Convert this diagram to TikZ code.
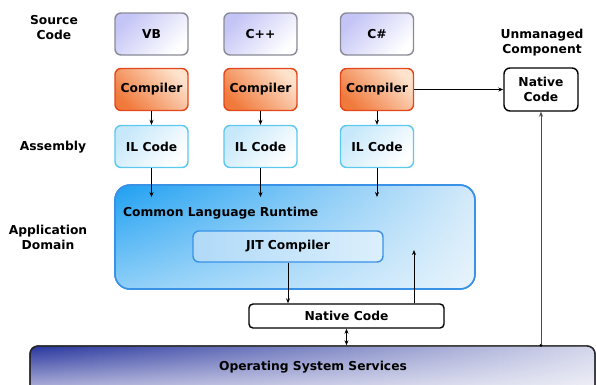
\documentclass[tikz,border=0pt]{standalone}
\usepackage{fontspec}
\setmainfont{DejaVu Sans}
\usetikzlibrary{arrows.meta,fadings}

\definecolor{srcfill}{HTML}{C4C4F6}
\definecolor{srcline}{HTML}{8A8A96}
\definecolor{cmpfill}{HTML}{F07A3C}
\definecolor{cmplight}{HTML}{FDE2CC}
\definecolor{cmpline}{HTML}{E4461A}
\definecolor{ilfill}{HTML}{C6E8FA}
\definecolor{illine}{HTML}{5CC8F0}
\definecolor{clrfill}{HTML}{1EA0F2}
\definecolor{clrlight}{HTML}{D4EAFA}
\definecolor{clrline}{HTML}{3A92E6}
\definecolor{jitfill}{HTML}{B0DAF8}
\definecolor{jitlight}{HTML}{DCEFFC}
\definecolor{osdark}{HTML}{28369E}
\definecolor{oslight}{HTML}{C4C4E2}

% white overlays that brighten one side of a filled shape
\tikzfading[name=fadedown, top color=transparent!100, bottom color=transparent!0]
\tikzfading[name=faderight, left color=transparent!100, right color=transparent!0]

\begin{document}
\begin{tikzpicture}[x=1pt,y=1pt,
  font=\bfseries\fontsize{12.3}{15}\selectfont,
  box/.style={rounded corners=6pt, line width=1.4pt, minimum width=73pt,
    minimum height=42pt, inner sep=0pt, align=center},
  srcbox/.style={box, draw=srcline, top color=srcfill, bottom color=white, shading angle=45},
  cmpbox/.style={box, draw=cmpline, top color=cmplight, bottom color=cmpfill, shading angle=-45},
  ilbox/.style={box, draw=illine, top color=ilfill, bottom color=white, shading angle=45},
  natbox/.style={box, draw=black, fill=white},
  lbl/.style={align=center, inner sep=0pt},
  arr/.style={-{Stealth[length=5pt,width=4pt]}, line width=0.7pt},
  darr/.style={{Stealth[length=5pt,width=4pt]}-{Stealth[length=5pt,width=4pt]}, line width=0.7pt},
]
\clip (0,0) rectangle (596,-384);

% row labels
\node[lbl] (lsrc) at (54,-28) {Source\\Code};
\node[lbl] (lasm) at (53,-147) {Assembly};
\node[lbl] (lapp) at (48,-237) {Application\\Domain};
\node[lbl] (lunm) at (542,-43) {Unmanaged\\Component};

% source languages
\node[srcbox] (vb) at (151.5,-34) {VB};
\node[srcbox] (cpp) at (260.5,-34) {C++};
\node[srcbox] (cs) at (377,-34) {C\#};

% compilers
\node[cmpbox] (c1) at (151.5,-89.5) {Compiler};
\node[cmpbox] (c2) at (260.5,-89.5) {Compiler};
\node[cmpbox] (c3) at (377,-89.5) {Compiler};

% intermediate language
\node[ilbox] (il1) at (151.5,-146.5) {IL Code};
\node[ilbox] (il2) at (260.5,-146.5) {IL Code};
\node[ilbox] (il3) at (377,-146.5) {IL Code};

% unmanaged native code
\node[natbox, minimum width=74pt, minimum height=43pt] (un) at (541,-89.5) {Native\\Code};

% common language runtime
\node[rounded corners=15pt, line width=1.6pt, draw=clrline, left color=clrfill,
  right color=clrlight, minimum width=360pt, minimum height=104pt,
  postaction={fill=white, fill opacity=0.5, path fading=fadedown},
  postaction={draw=clrline, line width=1.6pt}]
  (clr) at (295,-237) {};
\node[lbl, anchor=west] (clrtext) at (123,-213) {Common Language Runtime};
\node[box, draw=clrline, left color=jitfill, right color=jitlight,
  minimum width=190pt, minimum height=31pt]
  (jit) at (288,-246.5) {JIT Compiler};

% managed native code
\node[natbox, rounded corners=4pt, minimum width=195pt, minimum height=24pt]
  (nat) at (346.5,-316) {Native Code};

% operating system
\node[rounded corners=8pt, line width=1.4pt, draw=black!85, top color=osdark,
  bottom color=oslight, minimum width=565pt, minimum height=48pt,
  postaction={fill=white, fill opacity=0.8, path fading=faderight},
  postaction={draw=black!85, line width=1.4pt}]
  (os) at (312.5,-370) {};
\node[lbl] (ostext) at (313,-367) {Operating System Services};

% connector ends
\coordinate (clrin) at (0,-197);
\coordinate (upc) at (414,-250);

% connectors
\draw[arr] (c1.south) -- (il1.north);
\draw[arr] (c2.south) -- (il2.north);
\draw[arr] (c3.south) -- (il3.north);
\draw[arr] (il1.south) -- (il1.south |- clrin);
\draw[arr] (il2.south) -- (il2.south |- clrin);
\draw[arr] (il3.south) -- (il3.south |- clrin);
\draw[arr] (c3.east) -- (un.west);
\draw[arr] (jit.south) -- (jit.south |- nat.north);
\draw[arr] (nat.north -| upc) -- (upc);
\draw[darr] (nat.south) -- (nat.south |- os.north);
\fill (un.south |- os.north) circle (1.6pt);
\draw[arr, draw=black!70] (un.south |- os.north) -- (un.south);
\end{tikzpicture}
\end{document}
